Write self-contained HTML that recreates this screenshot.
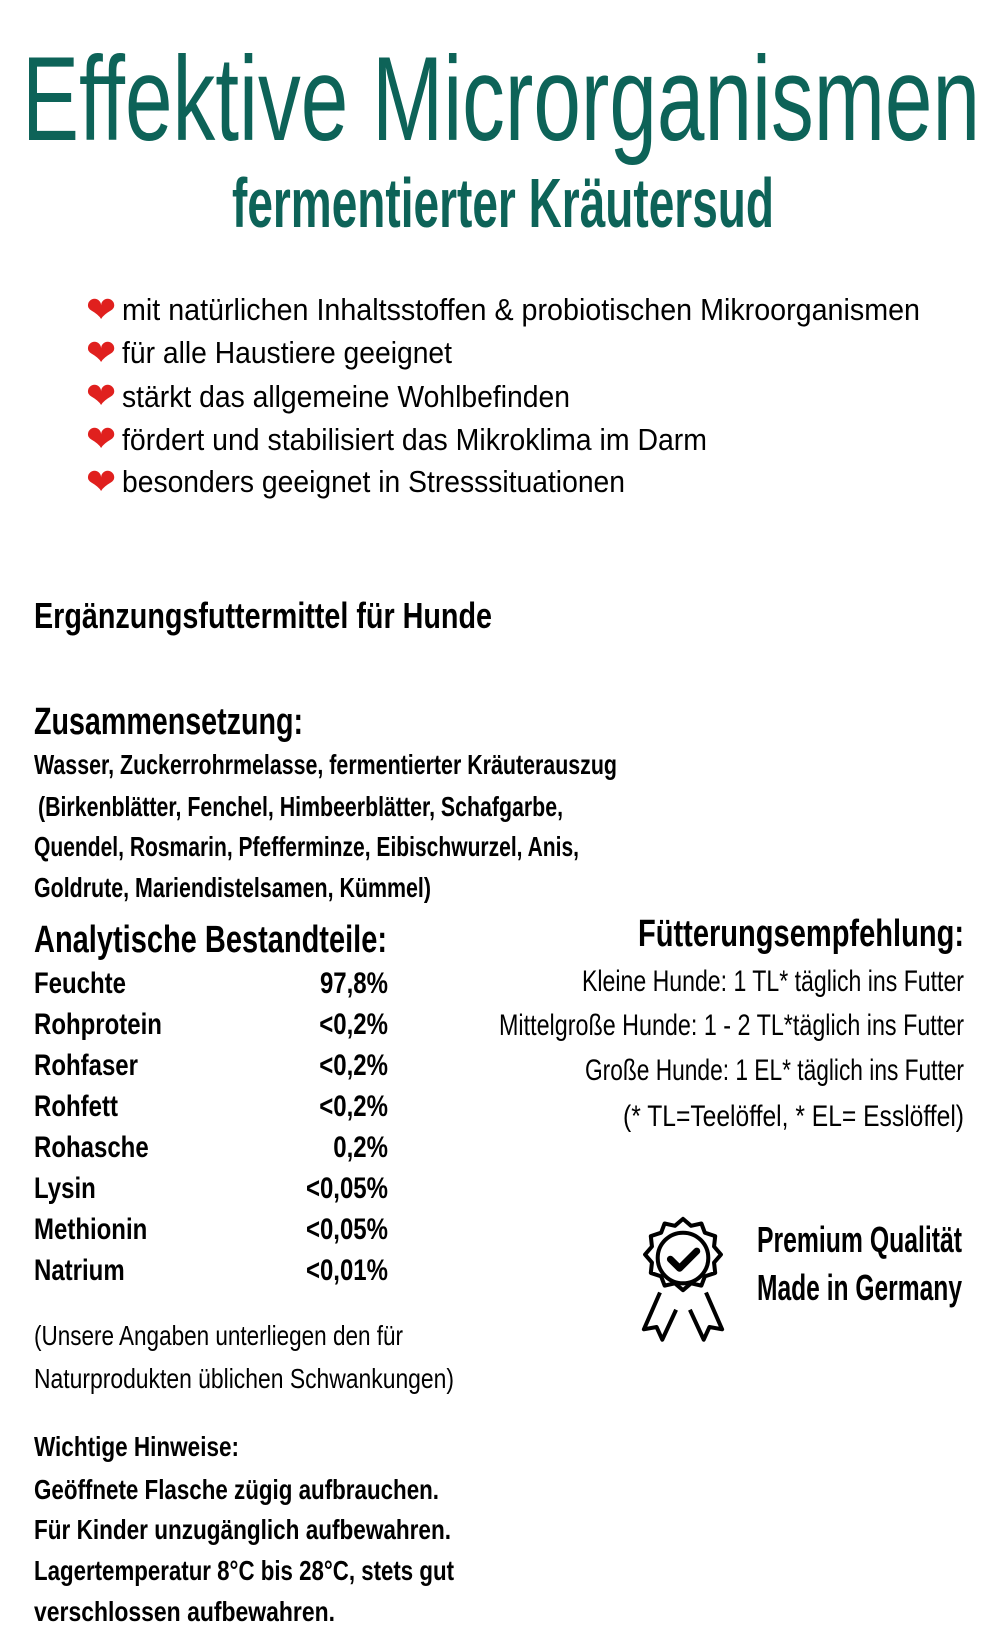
<!DOCTYPE html>
<html><head><meta charset="utf-8"><style>
html,body{margin:0;padding:0;background:#fff;width:1000px;height:1652px;overflow:hidden}
svg{display:block}
text{font-family:"Liberation Sans",sans-serif}
.b{font-weight:bold}
</style></head><body>
<svg width="1000" height="1652" viewBox="0 0 1000 1652" xmlns="http://www.w3.org/2000/svg">
<g fill="#0d6358">
<text x="22" y="140" font-size="120" textLength="958" lengthAdjust="spacingAndGlyphs">Effektive Microrganismen</text>
<text class="b" x="232" y="227" font-size="70" textLength="542" lengthAdjust="spacingAndGlyphs">fermentierter Kräutersud</text>
</g>
<g fill="#e0201e" font-size="36">
<text x="86" y="322">❤</text><text x="86" y="365">❤</text><text x="86" y="408">❤</text><text x="86" y="451">❤</text><text x="86" y="494">❤</text>
</g>
<g fill="#000" font-size="31">
<text x="122" y="320" textLength="798" lengthAdjust="spacingAndGlyphs">mit natürlichen Inhaltsstoffen &amp; probiotischen Mikroorganismen</text>
<text x="122" y="363" textLength="330" lengthAdjust="spacingAndGlyphs">für alle Haustiere geeignet</text>
<text x="122" y="407" textLength="448" lengthAdjust="spacingAndGlyphs">stärkt das allgemeine Wohlbefinden</text>
<text x="122" y="450" textLength="585" lengthAdjust="spacingAndGlyphs">fördert und stabilisiert das Mikroklima im Darm</text>
<text x="122" y="492" textLength="503" lengthAdjust="spacingAndGlyphs">besonders geeignet in Stresssituationen</text>
</g>
<g fill="#000">
<text class="b" x="34" y="628" font-size="36" textLength="458" lengthAdjust="spacingAndGlyphs">Ergänzungsfuttermittel für Hunde</text>
<text class="b" x="34" y="734" font-size="38" textLength="269" lengthAdjust="spacingAndGlyphs">Zusammensetzung:</text>
<g font-size="28" class="b">
<text x="34" y="774" textLength="583" lengthAdjust="spacingAndGlyphs">Wasser, Zuckerrohrmelasse, fermentierter Kräuterauszug</text>
<text x="38" y="816" textLength="525" lengthAdjust="spacingAndGlyphs">(Birkenblätter, Fenchel, Himbeerblätter, Schafgarbe,</text>
<text x="34" y="856" textLength="545" lengthAdjust="spacingAndGlyphs">Quendel, Rosmarin, Pfefferminze, Eibischwurzel, Anis,</text>
<text x="34" y="897" textLength="397" lengthAdjust="spacingAndGlyphs">Goldrute, Mariendistelsamen, Kümmel)</text>
</g>
<text class="b" x="34" y="952" font-size="38" textLength="353" lengthAdjust="spacingAndGlyphs">Analytische Bestandteile:</text>
<g font-size="30" class="b" transform="scale(0.8,1)">
<text x="42.5" y="993">Feuchte</text><text x="42.5" y="1034">Rohprotein</text><text x="42.5" y="1075">Rohfaser</text><text x="42.5" y="1116">Rohfett</text><text x="42.5" y="1157">Rohasche</text><text x="42.5" y="1198">Lysin</text><text x="42.5" y="1239">Methionin</text><text x="42.5" y="1280">Natrium</text>
<g text-anchor="end">
<text x="485" y="993">97,8%</text><text x="485" y="1034">&lt;0,2%</text><text x="485" y="1075">&lt;0,2%</text><text x="485" y="1116">&lt;0,2%</text><text x="485" y="1157">0,2%</text><text x="485" y="1198">&lt;0,05%</text><text x="485" y="1239">&lt;0,05%</text><text x="485" y="1280">&lt;0,01%</text>
</g>
</g>
<g font-size="28">
<text x="34" y="1345" textLength="369" lengthAdjust="spacingAndGlyphs">(Unsere Angaben unterliegen den für</text>
<text x="34" y="1388" textLength="420" lengthAdjust="spacingAndGlyphs">Naturprodukten üblichen Schwankungen)</text>
</g>
<g font-size="28" class="b">
<text x="34" y="1456" textLength="205" lengthAdjust="spacingAndGlyphs">Wichtige Hinweise:</text>
<text x="34" y="1499" textLength="405" lengthAdjust="spacingAndGlyphs">Geöffnete Flasche zügig aufbrauchen.</text>
<text x="34" y="1539" textLength="417" lengthAdjust="spacingAndGlyphs">Für Kinder unzugänglich aufbewahren.</text>
<text x="34" y="1580" textLength="420" lengthAdjust="spacingAndGlyphs">Lagertemperatur 8°C bis 28°C, stets gut</text>
<text x="34" y="1621" textLength="301" lengthAdjust="spacingAndGlyphs">verschlossen aufbewahren.</text>
</g>
<text class="b" x="638" y="946" font-size="38" textLength="326" lengthAdjust="spacingAndGlyphs">Fütterungsempfehlung:</text>
<g font-size="30">
<text x="582" y="991" textLength="382" lengthAdjust="spacingAndGlyphs">Kleine Hunde: 1 TL* täglich ins Futter</text>
<text x="499" y="1035" textLength="465" lengthAdjust="spacingAndGlyphs">Mittelgroße Hunde: 1 - 2 TL*täglich ins Futter</text>
<text x="585" y="1080" textLength="379" lengthAdjust="spacingAndGlyphs">Große Hunde: 1 EL* täglich ins Futter</text>
<text x="623" y="1126" textLength="341" lengthAdjust="spacingAndGlyphs">(* TL=Teelöffel, * EL= Esslöffel)</text>
</g>
<g class="b" font-size="36">
<text x="757" y="1252" textLength="205" lengthAdjust="spacingAndGlyphs">Premium Qualität</text>
<text x="757" y="1300" textLength="205" lengthAdjust="spacingAndGlyphs">Made in Germany</text>
</g>
</g>
<g transform="translate(683,1258) scale(1.15) translate(-683,-1248)">
<g fill="none" stroke="#000" stroke-width="3.5" stroke-linejoin="round">
<path d="M683 1214 l7 6 9-2 3 8 9 3 -1 9 6 7 -6 7 1 9 -9 3 -3 8 -9-2 -7 6 -7-6 -9 2 -3-8 -9-3 1-9 -6-7 6-7 -1-9 9-3 3-8 9 2z"/>
<circle cx="683" cy="1248" r="22"/>
<path d="M663 1278 l-14 32 11-2 5 11 12-26"/>
<path d="M703 1278 l14 32 -11-2 -5 11 -12-26"/>
</g>
<path d="M672 1249 l8 8 15-15" fill="none" stroke="#000" stroke-width="6" stroke-linecap="round" stroke-linejoin="round"/>
</g>
</svg>
</body></html>
